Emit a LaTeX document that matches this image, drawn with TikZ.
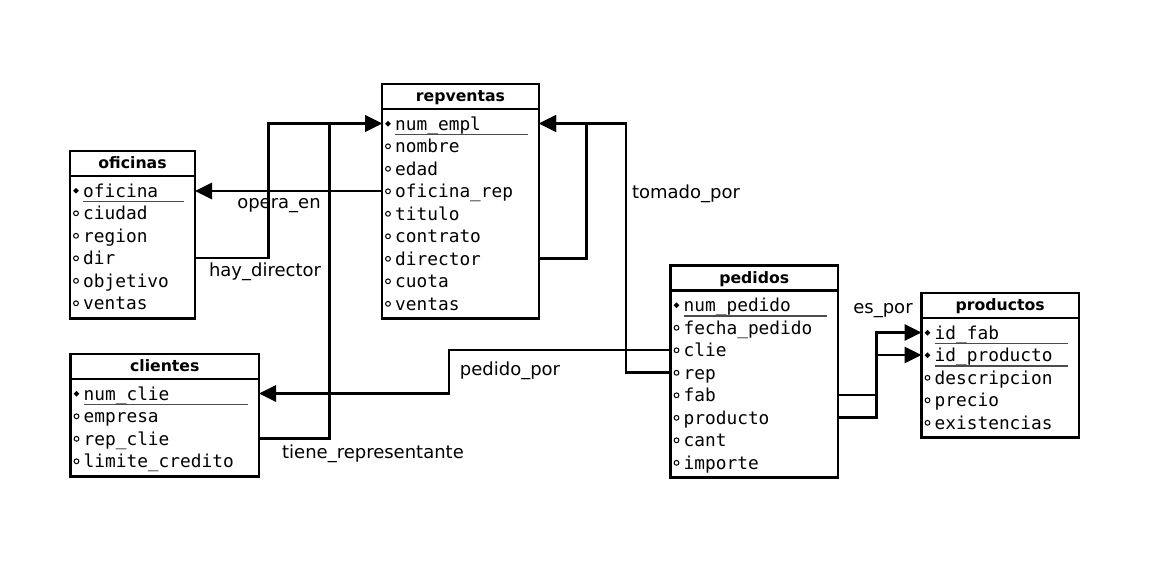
\documentclass[tikz,border=0pt]{standalone}
\usepackage{fontspec}
\setmainfont{DejaVu Sans}
\newfontfamily\erMono{DejaVu Sans Mono}
\usetikzlibrary{arrows.meta,shapes.geometric}
\tikzset{
  erbox/.style={draw, line width=2.8pt, fill=white, inner sep=0pt, outer sep=0pt, anchor=north west},
  erline/.style={line width=2.8pt},
  ertitle/.style={font=\bfseries\fontsize{15.7}{18}\selectfont, inner sep=0pt, anchor=base},
  errow/.style={font=\erMono\fontsize{17.8}{20}\selectfont, inner sep=0pt, anchor=base west},
  erunder/.style={line width=1.3pt, black!70},
  ernull/.style={circle, draw, line width=1pt, minimum size=4.8pt, inner sep=0pt},
  erkey/.style={diamond, fill=black, minimum size=6pt, inner sep=0pt},
  conn/.style={line width=2.8pt, -{Triangle[length=17pt,width=16pt]}},
  rel/.style={font=\fontsize{18}{20}\selectfont, inner sep=0pt, anchor=base},
}
\newcommand\ertable[7]{%
  \foreach [count=\i] \erTxt in {#7} {\xdef\erN{\i}}%
  \pgfmathsetmacro\erW{#3-#2}%
  \pgfmathsetmacro\erH{54.8+22.5*(\erN-1)}%
  \node[erbox, minimum width=\erW*1pt, minimum height=\erH*1pt] (#1) at (#2,#4) {};
  \draw[erline] (#2,#4+25) -- (#3,#4+25);
  \node[ertitle] (#1-title) at ({(#2+#3)/2},#4+17.5) {#5};
  \foreach [count=\i] \erTxt in {#7} {
    \pgfmathsetmacro\yb{#4+46.3+22.5*(\i-1)}
    \node[errow] (#1-t\i) at (#2+13,\yb) {\erTxt};
    \coordinate (#1-r\i) at (#2,\yb-6.8);
    \ifnum\i>#6\relax
      \node[ernull] (#1-m\i) at (#2+6,\yb-6.5) {};
    \else
      \node[erkey] (#1-m\i) at (#2+6,\yb-6.5) {};
      \draw[erunder] (#2+13,\yb+4.3) -- (#3-11,\yb+4.3);
    \fi
  }
}
\begin{document}
\begin{tikzpicture}[x=1pt,y=-1pt]
\fill[white] (0,0) rectangle (1161,579);
\useasboundingbox (0,0) rectangle (1161,579);

\ertable{ofi}{70}{195}{151}{oficinas}{1}{oficina,ciudad,region,dir,objetivo,ventas}
\ertable{rv}{382}{539}{84}{repventas}{1}{num\_empl,nombre,edad,oficina\_rep,titulo,contrato,director,cuota,ventas}
\ertable{cli}{70.5}{259}{354}{clientes}{1}{num\_clie,empresa,rep\_clie,limite\_credito}
\ertable{ped}{670.5}{838}{265.5}{pedidos}{1}{num\_pedido,fecha\_pedido,clie,rep,fab,producto,cant,importe}
\ertable{pro}{921.5}{1079}{293}{productos}{2}{id\_fab,id\_producto,descripcion,precio,existencias}

\coordinate (hd) at (268.3,0);
\coordinate (tr) at (329.3,0);
\coordinate (sl) at (586.7,0);
\coordinate (tp) at (626,0);
\coordinate (pp) at (449,0);
\coordinate (ep) at (876.7,0);

% opera_en
\draw[conn] (rv-r4) -- (rv-r4 -| ofi.east);
% hay_director
\draw[conn] (ofi-r4 -| ofi.east) -- (ofi-r4 -| hd) -- (rv-r1 -| hd) -- (rv-r1);
% tiene_representante
\draw[conn] (cli-r3 -| cli.east) -- (cli-r3 -| tr) -- (rv-r1 -| tr) -- (rv-r1);
% director self loop
\draw[conn] (rv-r7 -| rv.east) -- (rv-r7 -| sl) -- (rv-r1 -| sl) -- (rv-r1 -| rv.east);
% tomado_por
\draw[conn] (ped-r4) -- (ped-r4 -| tp) -- (rv-r1 -| tp) -- (rv-r1 -| rv.east);
% pedido_por
\draw[conn] (ped-r3) -- (ped-r3 -| pp) -- (cli-r1 -| pp) -- (cli-r1 -| cli.east);
% es_por
\draw[conn] (ped-r5 -| ped.east) -- (ped-r5 -| ep) -- (pro-r1 -| ep) -- (pro-r1);
\draw[conn] (ped-r6 -| ped.east) -- (ped-r6 -| ep) -- (pro-r2 -| ep) -- (pro-r2);

\node[rel] (l-opera) at (279,208) {opera\_en};
\node[rel] (l-hay) at (265,276) {hay\_director};
\node[rel] (l-tiene) at (373,458.3) {tiene\_representante};
\node[rel] (l-pedido) at (510,375) {pedido\_por};
\node[rel] (l-tomado) at (686,198.3) {tomado\_por};
\node[rel] (l-espor) at (883,313.3) {es\_por};
\end{tikzpicture}
\end{document}
